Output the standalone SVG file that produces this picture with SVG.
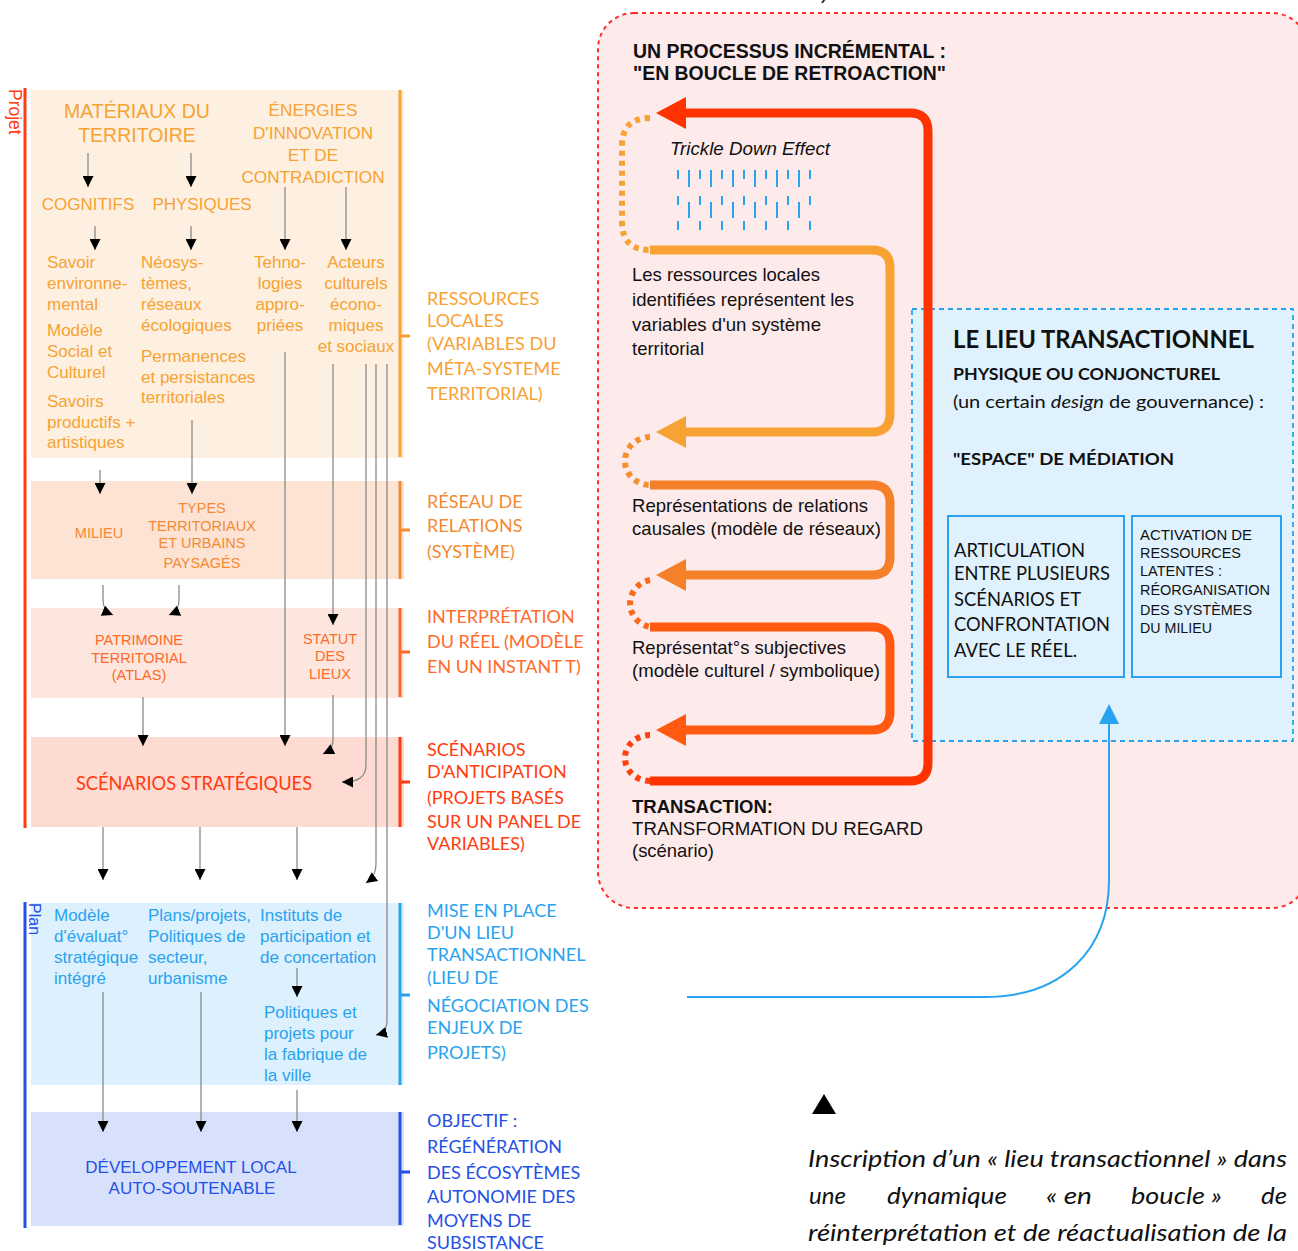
<svg xmlns="http://www.w3.org/2000/svg" width="1298" height="1251" viewBox="0 0 1298 1251">
<defs>
<marker id="ah" viewBox="0 0 10 10" refX="10" refY="5" markerWidth="11" markerHeight="11" markerUnits="userSpaceOnUse" orient="auto"><path d="M0,0 L10,5 L0,10 z" fill="#000"/></marker>
</defs>
<style>
.sans{font-family:"Liberation Sans",Arial,sans-serif}
.lato{font-family:Lato,"Open Sans",sans-serif}
.c1{fill:#f7a233}.c2{fill:#f58a33}.c3{fill:#ff6a2a}.c4{fill:#ff3c10}.c5{fill:#29a3f0}.c6{fill:#2450e6}
.blk{fill:#111}
.conn{fill:none;stroke:#8a8a8a;stroke-width:1.3;marker-end:url(#ah)}
.brk{fill:none;stroke-width:3}
.mid{text-anchor:middle}
.lbl{font-family:Lato,"Open Sans",sans-serif;font-size:18px}
.body{font-family:"Liberation Sans",Arial,sans-serif;font-size:19px;fill:#111}
.loop{fill:none;stroke-width:9;stroke-linejoin:round}
.dot{fill:none;stroke-width:6;stroke-dasharray:5 5}
.tick{fill:none;stroke:#29a3f0;stroke-width:2}
</style>

<!-- band 1 -->
<g id="band-ressources">
<rect x="31" y="90" width="373" height="368" fill="#fdf0e1"/>
<path class="brk" stroke="#f7a233" d="M400,90 V457 M400,336 H410"/>
<g class="sans c1" font-size="19.5">
<text class="mid" x="137" y="118">MATÉRIAUX DU</text>
<text class="mid" x="137" y="142">TERRITOIRE</text>
</g>
<g class="sans c1" font-size="17.2">
<text class="mid" x="313" y="116">ÉNERGIES</text>
<text class="mid" x="313" y="139">D'INNOVATION</text>
<text class="mid" x="313" y="161">ET DE</text>
<text class="mid" x="313" y="183">CONTRADICTION</text>
</g>
<g class="sans c1" font-size="17">
<text class="mid" x="88" y="210">COGNITIFS</text>
<text class="mid" x="202" y="210">PHYSIQUES</text>
<text x="47" y="268">Savoir</text>
<text x="47" y="289">environne-</text>
<text x="47" y="310">mental</text>
<text x="47" y="336">Modèle</text>
<text x="47" y="357">Social et</text>
<text x="47" y="378">Culturel</text>
<text x="47" y="407">Savoirs</text>
<text x="47" y="428">productifs +</text>
<text x="47" y="448">artistiques</text>
<text x="141" y="268">Néosys-</text>
<text x="141" y="289">tèmes,</text>
<text x="141" y="310">réseaux</text>
<text x="141" y="331">écologiques</text>
<text x="141" y="362">Permanences</text>
<text x="141" y="383">et persistances</text>
<text x="141" y="403">territoriales</text>
<text class="mid" x="280" y="268">Tehno-</text>
<text class="mid" x="280" y="289">logies</text>
<text class="mid" x="280" y="310">appro-</text>
<text class="mid" x="280" y="331">priées</text>
<text class="mid" x="356" y="268">Acteurs</text>
<text class="mid" x="356" y="289">culturels</text>
<text class="mid" x="356" y="310">écono-</text>
<text class="mid" x="356" y="331">miques</text>
<text class="mid" x="356" y="352">et sociaux</text>
</g>
</g>

<!-- band 2 -->
<g id="band-reseau">
<rect x="31" y="481" width="373" height="98" fill="#fde3d4"/>
<path class="brk" stroke="#f58a33" d="M400,481 V579 M400,530 H410"/>
<g class="sans c2" font-size="14.5">
<text class="mid" x="99" y="538">MILIEU</text>
<text class="mid" x="202" y="513">TYPES</text>
<text class="mid" x="202" y="531">TERRITORIAUX</text>
<text class="mid" x="202" y="548">ET URBAINS</text>
<text class="mid" x="202" y="568">PAYSAGÉS</text>
</g>
</g>

<!-- band 3 -->
<g id="band-interpretation">
<rect x="31" y="608" width="373" height="90" fill="#fde6dd"/>
<path class="brk" stroke="#ff6a2a" d="M400,608 V697 M400,652 H410"/>
<g class="sans c3" font-size="14.5">
<text class="mid" x="139" y="645">PATRIMOINE</text>
<text class="mid" x="139" y="663">TERRITORIAL</text>
<text class="mid" x="139" y="680">(ATLAS)</text>
<text class="mid" x="330" y="644">STATUT</text>
<text class="mid" x="330" y="661">DES</text>
<text class="mid" x="330" y="679">LIEUX</text>
</g>
</g>

<!-- band 4 -->
<g id="band-scenarios">
<rect x="31" y="737" width="373" height="90" fill="#fddad2"/>
<path class="brk" stroke="#ff3c10" d="M400,737 V827 M400,782 H410"/>
<text class="lato c4 mid" font-size="18.3" x="194" y="790">SCÉNARIOS STRATÉGIQUES</text>
</g>

<!-- band 5 -->
<g id="band-lieu">
<rect x="31" y="903" width="373" height="182" fill="#dcf0fd"/>
<path class="brk" stroke="#29a3f0" d="M400,903 V1085 M400,995 H410"/>
<g class="sans c5" font-size="17">
<text x="54" y="921">Modèle</text>
<text x="54" y="942">d'évaluat°</text>
<text x="54" y="963">stratégique</text>
<text x="54" y="984">intégré</text>
<text x="148" y="921">Plans/projets,</text>
<text x="148" y="942">Politiques de</text>
<text x="148" y="963">secteur,</text>
<text x="148" y="984">urbanisme</text>
<text x="260" y="921">Instituts de</text>
<text x="260" y="942">participation et</text>
<text x="260" y="963">de concertation</text>
<text x="264" y="1018">Politiques et</text>
<text x="264" y="1039">projets pour</text>
<text x="264" y="1060">la fabrique de</text>
<text x="264" y="1081">la ville</text>
</g>
</g>

<!-- band 6 -->
<g id="band-developpement">
<rect x="31" y="1112" width="373" height="114" fill="#d8e1fb"/>
<path class="brk" stroke="#2450e6" d="M400,1112 V1225 M400,1172 H410"/>
<g class="sans c6" font-size="17">
<text class="mid" x="191" y="1173">DÉVELOPPEMENT LOCAL</text>
<text class="mid" x="192" y="1194">AUTO-SOUTENABLE</text>
</g>
</g>

<!-- left brackets -->
<g id="bracket-projet">
<line x1="25" y1="88" x2="25" y2="828" stroke="#ff3c10" stroke-width="3"/>
<text class="sans" font-size="17.5" fill="#ff3c10" transform="translate(9,89) rotate(90)">Projet</text>
</g>
<g id="bracket-plan">
<line x1="25" y1="902" x2="25" y2="1228" stroke="#2450e6" stroke-width="3"/>
<text class="sans" font-size="16" fill="#2450e6" transform="translate(29,903) rotate(90)">Plan</text>
</g>

<!-- left connectors -->
<g id="connectors-left">
<path class="conn" d="M88,153 V187"/>
<path class="conn" d="M191,153 V187"/>
<path class="conn" d="M95,226 V250"/>
<path class="conn" d="M191,226 V250"/>
<path class="conn" d="M285,187 V250"/>
<path class="conn" d="M346,187 V250"/>
<path class="conn" d="M100,470 V494"/>
<path class="conn" d="M192,420 V494"/>
<path class="conn" d="M285,352 V746"/>
<path class="conn" d="M333,364 V625"/>
<path class="conn" d="M366,364 V765 C366,778 357,782 342,782"/>
<path class="conn" d="M376,364 V862 C376,873 373,878 366,883"/>
<path class="conn" d="M387,364 V1020 C387,1029 384,1033 376,1035"/>
<path class="conn" d="M103,585 V600 C103,608 106,612 113,615"/>
<path class="conn" d="M179,585 V600 C179,608 176,612 169,615"/>
<path class="conn" d="M143,697 V746"/>
<path class="conn" d="M333,695 V740 C333,748 329,751 323,754"/>
<path class="conn" d="M103,827 V880"/>
<path class="conn" d="M200,827 V880"/>
<path class="conn" d="M297,827 V880"/>
<path class="conn" d="M297,968 V997"/>
<path class="conn" d="M103,992 V1132"/>
<path class="conn" d="M201,992 V1132"/>
<path class="conn" d="M297,1090 V1132"/>
</g>

<!-- right labels column -->
<g id="labels-column" class="lbl">
<g class="c1">
<text x="427" y="305">RESSOURCES</text>
<text x="427" y="327">LOCALES</text>
<text x="427" y="350">(VARIABLES DU</text>
<text x="427" y="375">MÉTA-SYSTEME</text>
<text x="427" y="400">TERRITORIAL)</text>
</g>
<g class="c2">
<text x="427" y="508">RÉSEAU DE</text>
<text x="427" y="532">RELATIONS</text>
<text x="427" y="558">(SYSTÈME)</text>
</g>
<g class="c3">
<text x="427" y="623">INTERPRÉTATION</text>
<text x="427" y="648">DU RÉEL (MODÈLE</text>
<text x="427" y="673">EN UN INSTANT T)</text>
</g>
<g class="c4">
<text x="427" y="756">SCÉNARIOS</text>
<text x="427" y="778">D'ANTICIPATION</text>
<text x="427" y="804">(PROJETS BASÉS</text>
<text x="427" y="828">SUR UN PANEL DE</text>
<text x="427" y="850">VARIABLES)</text>
</g>
<g class="c5">
<text x="427" y="917">MISE EN PLACE</text>
<text x="427" y="939">D'UN LIEU</text>
<text x="427" y="961">TRANSACTIONNEL</text>
<text x="427" y="984">(LIEU DE</text>
<text x="427" y="1012">NÉGOCIATION DES</text>
<text x="427" y="1034">ENJEUX DE</text>
<text x="427" y="1059">PROJETS)</text>
</g>
<g class="c6">
<text x="427" y="1127">OBJECTIF :</text>
<text x="427" y="1153">RÉGÉNÉRATION</text>
<text x="427" y="1179">DES ÉCOSYTÈMES</text>
<text x="427" y="1203">AUTONOMIE DES</text>
<text x="427" y="1227">MOYENS DE</text>
<text x="427" y="1249">SUBSISTANCE</text>
</g>
</g>

<!-- top fragment -->
<text class="sans blk" font-size="20" x="821" y="-1">)</text>

<!-- right panel -->
<g id="panel-processus">
<rect x="598" y="13" width="710" height="895" rx="36" fill="#fdeaea" stroke="#ff2a2a" stroke-width="2" stroke-dasharray="4 4"/>
<text class="sans blk" font-weight="bold" font-size="20" x="633" y="58" textLength="313" lengthAdjust="spacingAndGlyphs">UN PROCESSUS INCRÉMENTAL :</text>
<text class="sans blk" font-weight="bold" font-size="20" x="633" y="80" textLength="313" lengthAdjust="spacingAndGlyphs">"EN BOUCLE DE RETROACTION"</text>
<text class="sans blk" font-style="italic" font-size="18" x="670" y="155" textLength="160" lengthAdjust="spacingAndGlyphs">Trickle Down Effect</text>
<path class="tick" d="M678,170V179 M689,170V187 M700,170V179 M711,170V187 M722,170V179 M733,170V187 M744,170V179 M755,170V187 M766,170V179 M777,170V187 M788,170V179 M799,170V187 M810,170V179
M678,196V205 M689,202V218 M700,196V205 M711,202V218 M722,196V205 M733,202V218 M744,196V205 M755,202V218 M766,196V205 M777,202V218 M788,196V205 M799,202V218 M810,196V205
M678,221V230 M700,221V230 M722,221V230 M744,221V230 M766,221V230 M788,221V230 M810,221V230"/>
<text class="body" x="632" y="281" textLength="188" lengthAdjust="spacingAndGlyphs">Les ressources locales</text>
<text class="body" x="632" y="306" textLength="222" lengthAdjust="spacingAndGlyphs">identifiées représentent les</text>
<text class="body" x="632" y="331" textLength="189" lengthAdjust="spacingAndGlyphs">variables d'un système</text>
<text class="body" x="632" y="355" textLength="72" lengthAdjust="spacingAndGlyphs">territorial</text>
<text class="body" x="632" y="512" textLength="236" lengthAdjust="spacingAndGlyphs">Représentations de relations</text>
<text class="body" x="632" y="535" textLength="249" lengthAdjust="spacingAndGlyphs">causales (modèle de réseaux)</text>
<text class="body" x="632" y="654" textLength="214" lengthAdjust="spacingAndGlyphs">Représentat°s subjectives</text>
<text class="body" x="632" y="677" textLength="248" lengthAdjust="spacingAndGlyphs">(modèle culturel / symbolique)</text>
<text class="sans blk" font-weight="bold" font-size="18.5" x="632" y="813" textLength="141" lengthAdjust="spacingAndGlyphs">TRANSACTION:</text>
<text class="sans blk" font-size="18.5" x="632" y="835" textLength="291" lengthAdjust="spacingAndGlyphs">TRANSFORMATION DU REGARD</text>
<text class="sans blk" font-size="18.5" x="632" y="857" textLength="82" lengthAdjust="spacingAndGlyphs">(scénario)</text>
</g>

<g id="lieu-transactionnel">
<rect x="912" y="309" width="381" height="432" fill="#dff1fd" stroke="#29a3f0" stroke-width="1.8" stroke-dasharray="5 4"/>
<text class="lato blk" font-weight="bold" font-size="24" x="953" y="348" textLength="301" lengthAdjust="spacingAndGlyphs">LE LIEU TRANSACTIONNEL</text>
<text class="lato blk" font-weight="bold" font-size="17.5" x="953" y="380" textLength="267" lengthAdjust="spacingAndGlyphs">PHYSIQUE OU CONJONCTUREL</text>
<text class="lato blk" font-size="17.5" x="953" y="408" textLength="311" lengthAdjust="spacingAndGlyphs">(un certain <tspan font-style="italic">design</tspan> de gouvernance) :</text>
<text class="lato blk" font-weight="bold" font-size="17.5" x="953" y="465" textLength="221" lengthAdjust="spacingAndGlyphs">"ESPACE" DE MÉDIATION</text>
</g>
<g id="box-articulation">
<rect x="948" y="516" width="176" height="161" fill="none" stroke="#29a3f0" stroke-width="2"/>
<g class="lato blk" font-size="18.5">
<text x="954" y="557" textLength="131" lengthAdjust="spacingAndGlyphs">ARTICULATION</text>
<text x="954" y="580" textLength="156" lengthAdjust="spacingAndGlyphs">ENTRE PLUSIEURS</text>
<text x="954" y="606" textLength="127" lengthAdjust="spacingAndGlyphs">SCÉNARIOS ET</text>
<text x="954" y="631" textLength="156" lengthAdjust="spacingAndGlyphs">CONFRONTATION</text>
<text x="954" y="657" textLength="123" lengthAdjust="spacingAndGlyphs">AVEC LE RÉEL.</text>
</g>
</g>
<g id="box-activation">
<rect x="1132" y="516" width="149" height="161" fill="none" stroke="#29a3f0" stroke-width="2"/>
<g class="sans blk" font-size="14.4">
<text x="1140" y="540" textLength="112" lengthAdjust="spacingAndGlyphs">ACTIVATION DE</text>
<text x="1140" y="558" textLength="101" lengthAdjust="spacingAndGlyphs">RESSOURCES</text>
<text x="1140" y="576" textLength="82" lengthAdjust="spacingAndGlyphs">LATENTES :</text>
<text x="1140" y="595" textLength="130" lengthAdjust="spacingAndGlyphs">RÉORGANISATION</text>
<text x="1140" y="615" textLength="112" lengthAdjust="spacingAndGlyphs">DES SYSTÈMES</text>
<text x="1140" y="633" textLength="72" lengthAdjust="spacingAndGlyphs">DU MILIEU</text>
</g>
</g>

<!-- feedback loop -->
<g id="feedback-loop">
<path class="dot" stroke="#f7a233" d="M650,118 Q622,118 622,146 V222 Q622,250 650,250"/>
<path class="loop" stroke="#f7a233" d="M650,250 H872 Q890,250 890,268 V414 Q890,432 872,432 H684"/>
<polygon fill="#f7a233" points="656,432 686,416 686,448"/>
<path class="dot" stroke="#f5902e" d="M650,437 A25 24 0 0 0 650,485"/>
<path class="loop" stroke="#f5802a" d="M650,485 H872 Q890,485 890,503 V557 Q890,575 872,575 H684"/>
<polygon fill="#f5802a" points="656,575 686,559 686,591"/>
<path class="dot" stroke="#f86a1a" d="M650,580 A25 24 0 0 0 650,627"/>
<path class="loop" stroke="#ff5a10" d="M650,627 H872 Q890,627 890,645 V712 Q890,730 872,730 H684"/>
<polygon fill="#ff5a10" points="656,730 686,714 686,746"/>
<path class="dot" stroke="#ff4010" d="M650,735 A25 23 0 0 0 650,781"/>
<path class="loop" stroke="#ff3300" d="M650,781 H910 Q928,781 928,763 V131 Q928,113 910,113 H684"/>
<polygon fill="#ff3300" points="656,113 686,97 686,129"/>
</g>

<!-- blue connector -->
<g id="connector-lieu">
<path d="M687,997 H985 C1062,997 1109,950 1109,880 V720" fill="none" stroke="#29a3f0" stroke-width="2"/>
<polygon fill="#29a3f0" points="1109,704 1099,724 1119,724"/>
</g>

<!-- caption -->
<g id="caption">
<polygon fill="#000" points="812,1114 824,1094 836,1114"/>
<g class="lato blk" font-style="italic" font-size="23">
<text x="808" y="1167" textLength="479" lengthAdjust="spacingAndGlyphs">Inscription d’un « lieu transactionnel » dans</text>
<text x="809" y="1204" textLength="37" lengthAdjust="spacingAndGlyphs">une</text>
<text x="887" y="1204" textLength="120" lengthAdjust="spacingAndGlyphs">dynamique</text>
<text x="1046" y="1204" textLength="46" lengthAdjust="spacingAndGlyphs">« en</text>
<text x="1131" y="1204" textLength="91" lengthAdjust="spacingAndGlyphs">boucle »</text>
<text x="1261" y="1204" textLength="26" lengthAdjust="spacingAndGlyphs">de</text>
<text x="808" y="1241" textLength="479" lengthAdjust="spacingAndGlyphs">réinterprétation et de réactualisation de la</text>
</g>
</g>
</svg>
